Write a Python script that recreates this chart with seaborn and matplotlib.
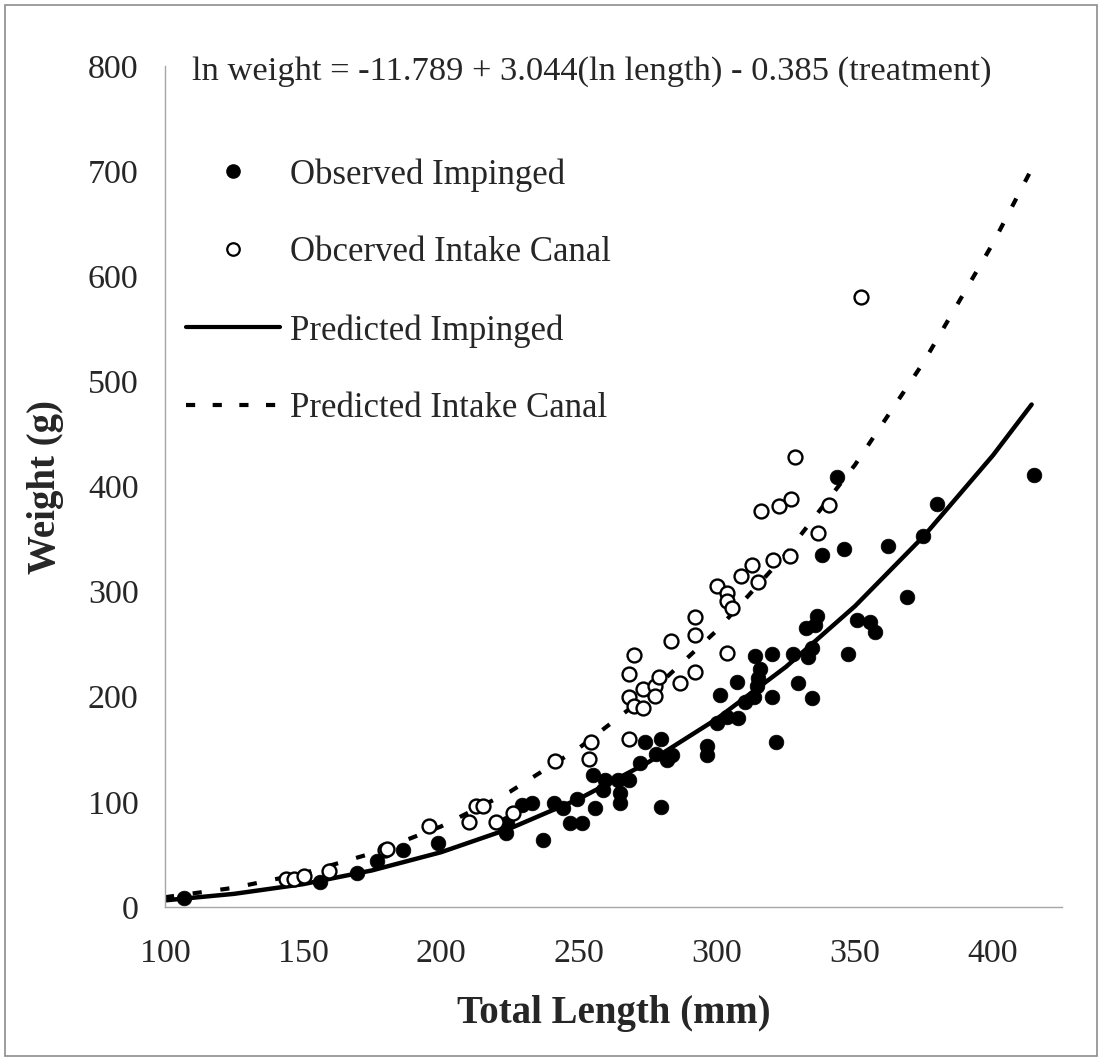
import numpy as np
import pandas as pd
import matplotlib
matplotlib.use("Agg")
import matplotlib.pyplot as plt
from matplotlib.lines import Line2D
from matplotlib.patches import Rectangle
import seaborn as sns

# ---------------- data ----------------
imp_length = [107, 156, 169.5, 176.7, 186.3, 199, 223.6, 224, 229.2, 232.8, 237, 240.9,
              244.3, 246.7, 251, 249.2, 255.2, 255.8, 259.4, 258.8, 264.2, 268.2, 264.9,
              264.9, 272.1, 273.9, 277.9, 279.6, 281.8, 283.6, 279.6, 296.5, 296.5, 301,
              300, 303.5, 307.1, 307.7, 310.1, 313.8, 315.6, 315, 314.4, 319.8, 319.8,
              313.4, 321.2, 327.6, 329.5, 334.3, 333.1, 334.6, 332.2, 335.5, 336.1, 337.9,
              343.4, 346, 347.6, 350.8, 355.6, 357.2, 362.1, 369, 374.8, 379.6, 414.9]
imp_weight = [9, 24, 32, 44, 54, 61, 70, 80, 97, 99, 64, 99,
              94, 80, 80, 103, 126, 94, 121, 111, 121, 121, 108,
              99, 137, 157, 146, 160, 140, 145, 95, 153, 145, 202,
              175, 181, 214, 180, 195, 239, 226, 218, 210, 241, 200,
              200, 157, 241, 213, 199, 238, 246, 265, 268, 277, 335,
              409, 341, 241, 273, 271, 262, 343, 295, 353, 383, 411]

can_length = [144, 146.7, 150.4, 159.5, 179.7, 180.5, 195.6, 210, 212.7, 215.3, 219.9,
              226, 241.3, 253.6, 254.5, 268.2, 268.2, 270, 273.3, 268.2, 270, 273.3,
              277.5, 279, 277.5, 286.6, 283.2, 292.1, 292.1, 292.1, 300, 303.7, 303.5,
              305.3, 303.5, 308.6, 312.7, 315, 320.2, 326.4, 315.9, 322.5, 326.7, 328.3,
              336.5, 340.6, 352]
can_weight = [27, 27, 29.5, 34, 54, 55, 77, 81, 96, 96, 81,
              89, 139, 141, 157, 160, 200, 191, 189, 222, 240, 207,
              210, 219, 201, 213, 253, 224, 259, 276, 305, 299, 291,
              284, 242, 315, 325, 309, 330, 334, 377, 381, 388, 428,
              356, 382, 580]

pred_length = [100, 125, 150, 175, 200, 225, 250, 275, 300, 325, 350, 375, 400, 414]
pred_impinged = [6.3, 12.5, 21.7, 34.8, 52.1, 74.7, 102.9, 137.5, 179.1, 228.5,
                 286.2, 353.0, 429.7, 478]
pred_canal = [9.3, 18.3, 31.9, 51.1, 76.6, 109.7, 151.2, 202.1, 263.2, 335.8,
              420.6, 518.8, 631.4, 702]

x_ticks = [100, 150, 200, 250, 300, 350, 400]
y_ticks = [0, 100, 200, 300, 400, 500, 600, 700, 800]

equation = "ln weight = -11.789 + 3.044(ln length) - 0.385 (treatment)"
legend_labels = ["Observed Impinged", "Obcerved Intake Canal",
                 "Predicted Impinged", "Predicted Intake Canal"]

# ---------------- figure ----------------
sns.set_style("white")
plt.rcParams["font.family"] = ["Liberation Serif", "DejaVu Serif"]

W, H = 1102, 1061
fig = plt.figure(figsize=(W / 100, H / 100), dpi=100)
ax = fig.add_axes([165 / W, 1 - 907 / H, (1062 - 165) / W, (907 - 66) / H])

df_imp = pd.DataFrame({"x": imp_length, "y": imp_weight})
df_can = pd.DataFrame({"x": can_length, "y": can_weight})
df_pred = pd.DataFrame({"x": pred_length, "imp": pred_impinged, "can": pred_canal})

sns.lineplot(data=df_pred, x="x", y="imp", ax=ax, color="black", lw=3.2,
             zorder=2, sort=True)
sns.lineplot(data=df_pred, x="x", y="can", ax=ax, color="black", lw=3.0,
             zorder=2, sort=True)
ax.lines[-1].set_dashes((2.2, 4.5))

sns.scatterplot(data=df_imp, x="x", y="y", ax=ax, color="black", s=112,
                edgecolor="black", linewidth=0.5, zorder=3)
sns.scatterplot(data=df_can, x="x", y="y", ax=ax, facecolor="white", s=100,
                edgecolor="black", linewidth=1.7, zorder=3)

ax.set_xlim(100, 425)
ax.set_ylim(0, 800)
ax.set_xticks(x_ticks)
ax.set_yticks(y_ticks)
ax.tick_params(axis="both", length=0, labelsize=24.5)
ax.tick_params(axis="x", pad=23)
ax.tick_params(axis="y", pad=19)

for side in ["top", "right"]:
    ax.spines[side].set_visible(False)
for side in ["left", "bottom"]:
    ax.spines[side].set_color("#A6A6A6")
    ax.spines[side].set_linewidth(1.0)

ax.set_xlabel("Total Length (mm)", fontsize=28, fontweight="bold")
ax.set_ylabel("Weight (g)", fontsize=28, fontweight="bold")
ax.xaxis.label.set_va("center")
ax.yaxis.label.set_va("center")
ax.xaxis.set_label_coords(0.5, (907 - 1013) / (907 - 66))
ax.yaxis.set_label_coords((45 - 165) / (1062 - 165), 0.5)

fig.text(192 / W, 1 - 72 / H, equation, fontsize=24.8, ha="left", va="center")

handles = [
    Line2D([], [], ls="none", marker="o", markersize=9.5, color="black"),
    Line2D([], [], ls="none", marker="o", markersize=9, markerfacecolor="white",
           markeredgecolor="black", markeredgewidth=1.6),
    Line2D([], [], color="black", lw=3),
    Line2D([], [], color="black", lw=3, dashes=(2.2, 4.2)),
]
ax.legend(handles, legend_labels, loc="upper left",
          bbox_to_anchor=(186 / W, 1 - 158 / H), bbox_transform=fig.transFigure,
          frameon=False, fontsize=25, handlelength=2.7, handletextpad=0.3,
          labelspacing=1.29, borderpad=0, borderaxespad=0)

fig.patches.append(Rectangle((5 / W, 5 / H), 1 - 10 / W, 1 - 10 / H,
                             transform=fig.transFigure, fill=False,
                             edgecolor="#8C8C8C", lw=1.2))

fig.savefig("out.png", dpi=100)
